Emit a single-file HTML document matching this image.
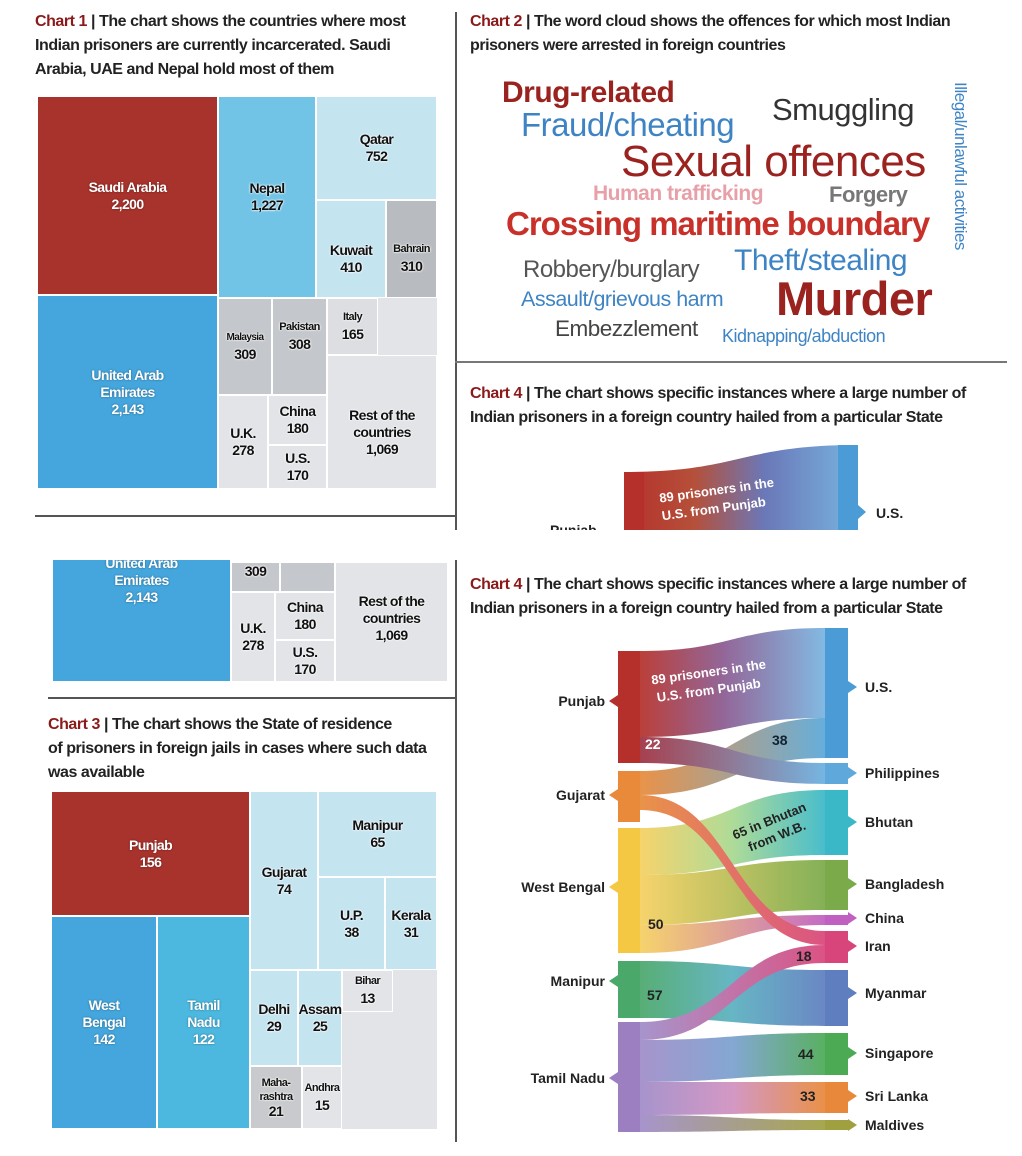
<!DOCTYPE html>
<html><head><meta charset="utf-8">
<style>
body{margin:0;width:1022px;height:1156px;background:#fff;position:relative;overflow:hidden;font-family:"Liberation Sans",sans-serif;}
.t{position:absolute;font-size:16px;line-height:24px;color:#222;letter-spacing:-0.45px;white-space:nowrap;font-weight:bold}
.t b{color:#8b1a1a}
.b{position:absolute;box-sizing:border-box;border:1px solid #fff;display:flex;align-items:center;justify-content:center;text-align:center;font-weight:bold;font-size:14px;line-height:17px;letter-spacing:-0.6px}
.w{color:#fff;text-shadow:0 0 2px rgba(0,0,0,.4)}
.k{color:#111;text-shadow:0 0 2px #fff,0 0 2px #fff}
.g{background:#e2e4e8}
.ln{position:absolute;background:#555}
.wc{position:absolute;white-space:nowrap;font-family:"Liberation Sans",sans-serif;letter-spacing:-0.5px}
</style></head><body>
<div class="ln" style="left:455px;top:12px;width:2px;height:518px"></div>
<div class="ln" style="left:35px;top:515px;width:420px;height:2px"></div>
<div class="ln" style="left:455px;top:361px;width:552px;height:2px;background:#777"></div>
<div class="ln" style="left:455px;top:560px;width:2px;height:582px"></div>
<div class="ln" style="left:48px;top:697px;width:407px;height:2px"></div>

<!-- Chart 1 -->
<div class="t" style="left:35px;top:10px"><b>Chart 1</b> | The chart shows the countries where most<br>Indian prisoners are currently incarcerated. Saudi<br>Arabia, UAE and Nepal hold most of them</div>
<div class="g" style="position:absolute;left:37px;top:96px;width:400px;height:393px"></div>
<div class="b w" style="left:37px;top:96px;width:181px;height:199px;background:#a8322c"><div>Saudi Arabia<br>2,200</div></div>
<div class="b w" style="left:37px;top:295px;width:181px;height:194px;background:#44a6dd"><div>United Arab<br>Emirates<br>2,143</div></div>
<div class="b k" style="left:218px;top:96px;width:98px;height:202px;background:#72c4e6"><div>Nepal<br>1,227</div></div>
<div class="b k" style="left:316px;top:96px;width:121px;height:104px;background:#c4e4f0"><div>Qatar<br>752</div></div>
<div class="b k" style="left:316px;top:200px;width:70px;height:98px;background:#c4e4f0;padding-top:20px"><div>Kuwait<br>410</div></div>
<div class="b k" style="left:386px;top:200px;width:51px;height:98px;background:#b8bcc0;font-size:11px;padding-top:20px"><div>Bahrain<br><span style="font-size:14px">310</span></div></div>
<div class="b k" style="left:218px;top:298px;width:54px;height:97px;background:#c4c7cb;font-size:10px"><div>Malaysia<br><span style="font-size:14px">309</span></div></div>
<div class="b k" style="left:272px;top:298px;width:55px;height:97px;background:#c4c7cb;font-size:11px;align-items:flex-start;padding-top:20px"><div>Pakistan<br><span style="font-size:14px">308</span></div></div>
<div class="b k" style="left:327px;top:298px;width:51px;height:57px;background:#dcdee2;font-size:11px"><div>Italy<br><span style="font-size:14px">165</span></div></div>
<div class="b k" style="left:218px;top:395px;width:50px;height:94px;background:#e2e4e8"><div>U.K.<br>278</div></div>
<div class="b k" style="left:268px;top:395px;width:59px;height:50px;background:#e2e4e8"><div>China<br>180</div></div>
<div class="b k" style="left:268px;top:445px;width:59px;height:44px;background:#e2e4e8"><div>U.S.<br>170</div></div>
<div class="b k" style="left:327px;top:355px;width:110px;height:134px;background:#e2e4e8;padding-top:20px"><div>Rest of the<br>countries<br>1,069</div></div>

<!-- Chart 2 word cloud -->
<div class="t" style="left:470px;top:10px"><b>Chart 2</b> | The word cloud shows the offences for which most Indian<br>prisoners were arrested in foreign countries</div>
<div class="wc" style="left:502px;top:76px;font-size:30px;font-weight:bold;color:#9a2320">Drug-related</div>
<div class="wc" style="left:521px;top:106px;font-size:33px;color:#3e84c4">Fraud/cheating</div>
<div class="wc" style="left:772px;top:92px;font-size:31px;color:#333">Smuggling</div>
<div class="wc" style="left:621px;top:137px;font-size:44px;color:#9a2320">Sexual offences</div>
<div class="wc" style="left:593px;top:182px;font-size:21px;color:#e8a0a8;font-weight:bold">Human trafficking</div>
<div class="wc" style="left:829px;top:182px;font-size:22px;color:#777;font-weight:bold">Forgery</div>
<div class="wc" style="left:506px;top:205px;font-size:33px;color:#c8302a;font-weight:bold;letter-spacing:-1px">Crossing maritime boundary</div>
<div class="wc" style="left:523px;top:256px;font-size:24px;color:#555">Robbery/burglary</div>
<div class="wc" style="left:734px;top:244px;font-size:30px;color:#3e84c4">Theft/stealing</div>
<div class="wc" style="left:521px;top:287px;font-size:21.5px;color:#3e84c4">Assault/grievous harm</div>
<div class="wc" style="left:776px;top:271px;font-size:47px;color:#9a2320;font-weight:bold">Murder</div>
<div class="wc" style="left:555px;top:316px;font-size:22.5px;color:#444">Embezzlement</div>
<div class="wc" style="left:722px;top:326px;font-size:18px;color:#3e84c4">Kidnapping/abduction</div>
<div class="wc" style="left:948px;top:82px;font-size:17px;color:#3e84c4;transform-origin:0 0;transform:translate(22px,0) rotate(90deg)">Illegal/unlawful activities</div>

<!-- upper chart 4 fragment -->
<div class="t" style="left:470px;top:382px"><b>Chart 4</b> | The chart shows specific instances where a large number of<br>Indian prisoners in a foreign country hailed from a particular State</div>
<svg style="position:absolute;left:0;top:0" width="1022" height="530" font-family="Liberation Sans,sans-serif" font-weight="bold">
<defs><linearGradient id="gu" x1="0" x2="1"><stop offset="0" stop-color="#b5302a"/><stop offset=".3" stop-color="#b5503a"/><stop offset=".6" stop-color="#6a78b8"/><stop offset="1" stop-color="#78b4e0"/></linearGradient></defs>
<path d="M624,472 C740,472 740,445 858,445 L858,530 L624,530 Z" fill="url(#gu)"/>
<rect x="624" y="472" width="20" height="58" fill="#b5302a"/>
<rect x="838" y="445" width="20" height="85" fill="#4b9bd6"/>
<polygon points="858,505 866,512 858,519" fill="#4b9bd6"/>
<text x="660" y="497" font-size="13" fill="#fff" transform="rotate(-8 700 500)">89 prisoners in the</text>
<text x="660" y="515" font-size="13" fill="#fff" transform="rotate(-8 700 500)">U.S. from Punjab</text>
<text x="876" y="518" font-size="14" fill="#222">U.S.</text>
<text x="550" y="535" font-size="14" fill="#222">Punjab</text>
</svg>

<!-- lower chart 1 fragment -->
<div class="g" style="position:absolute;left:52px;top:562px;width:396px;height:120px"></div>
<div class="b w" style="left:52px;top:540px;width:179px;height:142px;background:#44a6dd;align-items:flex-start;padding-top:14px"><div>United Arab<br>Emirates<br>2,143</div></div>
<div class="b k" style="left:231px;top:562px;width:49px;height:30px;background:#c4c7cb;align-items:flex-start"><div>309</div></div>
<div class="b" style="left:280px;top:562px;width:55px;height:30px;background:#c4c7cb"></div>
<div class="b k" style="left:231px;top:592px;width:44px;height:90px"><div>U.K.<br>278</div></div>
<div class="b k" style="left:275px;top:592px;width:60px;height:48px"><div>China<br>180</div></div>
<div class="b k" style="left:275px;top:640px;width:60px;height:42px"><div>U.S.<br>170</div></div>
<div class="b k" style="left:335px;top:562px;width:113px;height:120px;align-items:flex-start;padding-top:30px"><div>Rest of the<br>countries<br>1,069</div></div>
<div style="position:absolute;left:0;top:530px;width:455px;height:30px;background:#fff"></div>

<!-- Chart 3 -->
<div class="t" style="left:48px;top:713px"><b>Chart 3</b> | The chart shows the State of residence<br>of prisoners in foreign jails in cases where such data<br>was available</div>
<div class="g" style="position:absolute;left:51px;top:791px;width:386px;height:338px"></div>
<div class="b w" style="left:51px;top:791px;width:199px;height:125px;background:#a8322c"><div>Punjab<br>156</div></div>
<div class="b w" style="left:51px;top:916px;width:106px;height:213px;background:#44a6dd"><div>West<br>Bengal<br>142</div></div>
<div class="b w" style="left:157px;top:916px;width:93px;height:213px;background:#4cb8e0"><div>Tamil<br>Nadu<br>122</div></div>
<div class="b k" style="left:250px;top:791px;width:68px;height:179px;background:#c4e4f0"><div>Gujarat<br>74</div></div>
<div class="b k" style="left:318px;top:791px;width:119px;height:86px;background:#c4e4f0"><div>Manipur<br>65</div></div>
<div class="b k" style="left:318px;top:877px;width:67px;height:93px;background:#c4e4f0"><div>U.P.<br>38</div></div>
<div class="b k" style="left:385px;top:877px;width:52px;height:93px;background:#c4e4f0"><div>Kerala<br>31</div></div>
<div class="b k" style="left:250px;top:970px;width:48px;height:96px;background:#c4e4f0"><div>Delhi<br>29</div></div>
<div class="b k" style="left:298px;top:970px;width:44px;height:96px;background:#c4e4f0"><div>Assam<br>25</div></div>
<div class="b k" style="left:342px;top:970px;width:51px;height:42px;background:#e2e4e8;font-size:11px"><div>Bihar<br><span style="font-size:14px">13</span></div></div>
<div class="b k" style="left:250px;top:1066px;width:52px;height:63px;background:#c8cacd;font-size:11px;line-height:14px"><div>Maha-<br>rashtra<br><span style="font-size:14px">21</span></div></div>
<div class="b k" style="left:302px;top:1066px;width:40px;height:63px;background:#e2e4e8;font-size:11px"><div>Andhra<br><span style="font-size:14px">15</span></div></div>

<!-- Chart 4 -->
<div class="t" style="left:470px;top:573px"><b>Chart 4</b> | The chart shows specific instances where a large number of<br>Indian prisoners in a foreign country hailed from a particular State</div>
<svg style="position:absolute;left:0;top:0" width="1022" height="1156" font-family="Liberation Sans,sans-serif" font-weight="bold">
<defs>
<linearGradient id="a1" x1="0" x2="1"><stop offset="0" stop-color="#b5302a"/><stop offset=".45" stop-color="#8a5a90"/><stop offset="1" stop-color="#78b4e0"/></linearGradient>
<linearGradient id="a2" x1="0" x2="1"><stop offset="0" stop-color="#a03040"/><stop offset="1" stop-color="#6ab0e0"/></linearGradient>
<linearGradient id="a3" x1="0" x2="1"><stop offset="0" stop-color="#e88a3a"/><stop offset="1" stop-color="#5aa8d8"/></linearGradient>
<linearGradient id="a4" x1="0" x2="1"><stop offset="0" stop-color="#e88a3a"/><stop offset="1" stop-color="#d8457a"/></linearGradient>
<linearGradient id="a5" x1="0" x2="1"><stop offset="0" stop-color="#f6d060"/><stop offset=".5" stop-color="#a8d890"/><stop offset="1" stop-color="#3ab8c8"/></linearGradient>
<linearGradient id="a6" x1="0" x2="1"><stop offset="0" stop-color="#f6d060"/><stop offset="1" stop-color="#7aaa4a"/></linearGradient>
<linearGradient id="a7" x1="0" x2="1"><stop offset="0" stop-color="#f6d060"/><stop offset="1" stop-color="#c060c0"/></linearGradient>
<linearGradient id="a8" x1="0" x2="1"><stop offset="0" stop-color="#4aa86a"/><stop offset=".5" stop-color="#5ab0c0"/><stop offset="1" stop-color="#5e7ec0"/></linearGradient>
<linearGradient id="a9" x1="0" x2="1"><stop offset="0" stop-color="#a08cc8"/><stop offset="1" stop-color="#d8457a"/></linearGradient>
<linearGradient id="a10" x1="0" x2="1"><stop offset="0" stop-color="#a08cc8"/><stop offset=".5" stop-color="#7aa0d0"/><stop offset="1" stop-color="#4caa55"/></linearGradient>
<linearGradient id="a11" x1="0" x2="1"><stop offset="0" stop-color="#a08cc8"/><stop offset=".5" stop-color="#d090c0"/><stop offset="1" stop-color="#e8883a"/></linearGradient>
<linearGradient id="a12" x1="0" x2="1"><stop offset="0" stop-color="#a08cc8"/><stop offset="1" stop-color="#a0a040"/></linearGradient>
</defs>
<g opacity="0.92">
<path d="M640,651 C732,651 732,628 825,628 L825,718 C732,718 732,737 640,737 Z" fill="url(#a1)"/>
<path d="M640,771 C732,771 732,718 825,718 L825,758 C732,758 732,795 640,795 Z" fill="url(#a3)"/>
<path d="M640,737 C732,737 732,763 825,763 L825,784 C732,784 732,763 640,763 Z" fill="url(#a2)"/>
<path d="M640,828 C732,828 732,790 825,790 L825,855 C732,855 732,875 640,875 Z" fill="url(#a5)"/>
<path d="M640,875 C732,875 732,860 825,860 L825,910 C732,910 732,925 640,925 Z" fill="url(#a6)"/>
<path d="M640,925 C732,925 732,915 825,915 L825,925 C732,925 732,953 640,953 Z" fill="url(#a7)"/>
<path d="M640,795 C732,795 732,931 825,931 L825,945 C732,945 732,810 640,810 Z" fill="url(#a4)"/>
<path d="M640,961 C732,961 732,970 825,970 L825,1026 C732,1026 732,1018 640,1018 Z" fill="url(#a8)"/>
<path d="M640,1040 C732,1040 732,1033 825,1033 L825,1075 C732,1075 732,1082 640,1082 Z" fill="url(#a10)"/>
<path d="M640,1082 C732,1082 732,1082 825,1082 L825,1113 C732,1113 732,1115 640,1115 Z" fill="url(#a11)"/>
<path d="M640,1115 C732,1115 732,1120 825,1120 L825,1130 C732,1130 732,1132 640,1132 Z" fill="url(#a12)"/>
<path d="M640,1022 C732,1022 732,945 825,945 L825,963 C732,963 732,1040 640,1040 Z" fill="url(#a9)"/>
</g>
<rect x="618" y="651" width="22" height="112" fill="#b5302a"/>
<rect x="618" y="771" width="22" height="51" fill="#e88a3a"/>
<rect x="618" y="828" width="22" height="125" fill="#f4c842"/>
<rect x="618" y="961" width="22" height="57" fill="#4aa86a"/>
<rect x="618" y="1022" width="22" height="110" fill="#9b7fc0"/>
<polygon points="618,695 609,701 618,707" fill="#b5302a"/>
<polygon points="618,789 609,795 618,801" fill="#e88a3a"/>
<polygon points="618,881 609,887 618,893" fill="#f4c842"/>
<polygon points="618,975 609,981 618,987" fill="#4aa86a"/>
<polygon points="618,1072 609,1078 618,1084" fill="#9b7fc0"/>
<rect x="825" y="628" width="23" height="130" fill="#4b9bd6"/>
<rect x="825" y="763" width="23" height="21" fill="#5fa8dc"/>
<rect x="825" y="790" width="23" height="65" fill="#3ab8c8"/>
<rect x="825" y="860" width="23" height="50" fill="#7aaa4a"/>
<rect x="825" y="915" width="23" height="10" fill="#c060c0"/>
<rect x="825" y="931" width="23" height="32" fill="#d8457a"/>
<rect x="825" y="970" width="23" height="56" fill="#5e7ec0"/>
<rect x="825" y="1033" width="23" height="42" fill="#4caa55"/>
<rect x="825" y="1082" width="23" height="31" fill="#e8883a"/>
<rect x="825" y="1120" width="23" height="10" fill="#a0a040"/>
<g>
<polygon points="848,681 857,687 848,693" fill="#4b9bd6"/>
<polygon points="848,767 857,773 848,779" fill="#5fa8dc"/>
<polygon points="848,816 857,822 848,828" fill="#3ab8c8"/>
<polygon points="848,878 857,884 848,890" fill="#7aaa4a"/>
<polygon points="848,912 857,918 848,924" fill="#c060c0"/>
<polygon points="848,940 857,946 848,952" fill="#d8457a"/>
<polygon points="848,987 857,993 848,999" fill="#5e7ec0"/>
<polygon points="848,1047 857,1053 848,1059" fill="#4caa55"/>
<polygon points="848,1090 857,1096 848,1102" fill="#e8883a"/>
<polygon points="848,1119 857,1125 848,1131" fill="#a0a040"/>
</g>
<g font-size="14" fill="#222">
<text x="605" y="706" text-anchor="end">Punjab</text>
<text x="605" y="800" text-anchor="end">Gujarat</text>
<text x="605" y="892" text-anchor="end">West Bengal</text>
<text x="605" y="986" text-anchor="end">Manipur</text>
<text x="605" y="1083" text-anchor="end">Tamil Nadu</text>
<text x="865" y="692">U.S.</text>
<text x="865" y="778">Philippines</text>
<text x="865" y="827">Bhutan</text>
<text x="865" y="889">Bangladesh</text>
<text x="865" y="923">China</text>
<text x="865" y="951">Iran</text>
<text x="865" y="998">Myanmar</text>
<text x="865" y="1058">Singapore</text>
<text x="865" y="1101">Sri Lanka</text>
<text x="865" y="1130">Maldives</text>
</g>
<g font-size="13" fill="#fff" transform="rotate(-8 720 680)">
<text x="652" y="675">89 prisoners in the</text>
<text x="655" y="693">U.S. from Punjab</text>
</g>
<g font-size="13" fill="#222" transform="rotate(-22 770 820)">
<text x="730" y="825">65 in Bhutan</text>
<text x="740" y="842">from W.B.</text>
</g>
<g font-size="14">
<text x="645" y="749" fill="#fff">22</text>
<text x="772" y="745" fill="#123">38</text>
<text x="648" y="929" fill="#222">50</text>
<text x="647" y="1000" fill="#222">57</text>
<text x="796" y="961" fill="#222">18</text>
<text x="798" y="1059" fill="#222">44</text>
<text x="800" y="1101" fill="#222">33</text>
</g>
</svg>
</body></html>
